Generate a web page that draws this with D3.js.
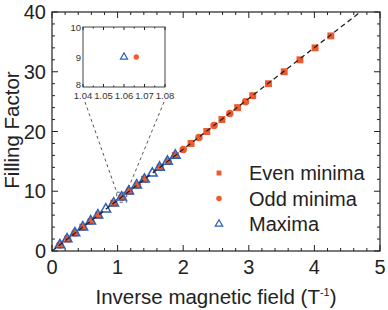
<!DOCTYPE html>
<html lang="en">
<head>
<meta charset="utf-8">
<title>Filling factor</title>
<style>
  body { margin: 0; background: #fff; font-family: "Liberation Sans", Arial, sans-serif; }
  .frame { fill: none; stroke: #222; stroke-width: 1.2px; }
  .tick { stroke: #222; stroke-width: 1px; }
  .tick-label { font-size: 20px; fill: #222; }
  .axis-title { font-size: 20.5px; fill: #222; }
  .inset-label { font-size: 9.5px; fill: #333; }
  .legend-label { font-size: 20px; fill: #222; }
  .fit { stroke: #222; stroke-width: 1.3px; stroke-dasharray: 5,3.5; fill: none; }
  .zoom-line { stroke: #555; stroke-width: 1px; stroke-dasharray: 3,3; fill: none; }
</style>
</head>
<body>
<script src="https://d3js.org/d3.v7.min.js"></script>
<script>
// even filling-factor minima
var evenX = [0.24, 0.47, 0.71, 0.94, 1.18, 1.41, 1.65, 1.88, 2.12, 2.36, 2.59, 2.83, 3.06, 3.30, 3.54, 3.78, 4.01, 4.25];
var evenY = [2, 4, 6, 8, 10, 12, 14, 16, 18, 20, 22, 24, 26, 28, 30, 32, 34, 36];
// odd minima
var oddX = [0.12, 0.35, 0.59, 1.066, 1.30, 1.77, 2.00, 2.24, 2.47, 2.71, 2.95];
var oddY = [1, 3, 5, 9, 11, 15, 17, 19, 21, 23, 25];
// maxima
var maxX = [0.12, 0.23, 0.35, 0.47, 0.59, 0.70, 0.82, 0.94, 1.06, 1.17, 1.29, 1.41, 1.53, 1.64, 1.76, 1.88];
var maxY = [1, 2, 3, 4, 5, 6, 7, 8, 9, 10, 11, 12, 13, 14, 15, 16];
// dashed linear fit
var fitX = [0, 4.7];
var fitY = [0, 40];

var xTicks = [0, 1, 2, 3, 4, 5];
var yTicks = [0, 10, 20, 30, 40];
var insetXTicks = [1.04, 1.05, 1.06, 1.07, 1.08];
var insetYTicks = [8, 9, 10];

var red = '#ee5a2f', blue = '#2e5fb5';

var W = 388, H = 310;
var svg = d3.select('body').append('svg').attr('width', W).attr('height', H);

var x = d3.scaleLinear().domain([0, 5]).range([52, 380]);
var y = d3.scaleLinear().domain([0, 40]).range([251, 12]);

// ticks on all four sides, pointing inward
function minorTicks(lo, hi, step) {
  return d3.range(lo, hi + step / 2, step);
}
var gT = svg.append('g');
minorTicks(0, 5, 0.2).forEach(function(v) {
  var major = Math.abs(v - Math.round(v)) < 1e-6;
  var len = major ? 6 : 3;
  gT.append('line').attr('class', 'tick').attr('x1', x(v)).attr('x2', x(v)).attr('y1', y(0)).attr('y2', y(0) - len);
  gT.append('line').attr('class', 'tick').attr('x1', x(v)).attr('x2', x(v)).attr('y1', y(40)).attr('y2', y(40) + len);
});
minorTicks(0, 40, 2).forEach(function(v) {
  var major = v % 10 === 0;
  var len = major ? 6 : 3;
  gT.append('line').attr('class', 'tick').attr('x1', x(0)).attr('x2', x(0) + len).attr('y1', y(v)).attr('y2', y(v));
  gT.append('line').attr('class', 'tick').attr('x1', x(5)).attr('x2', x(5) - len).attr('y1', y(v)).attr('y2', y(v));
});

svg.append('rect').attr('class', 'frame')
  .attr('x', x(0)).attr('y', y(40)).attr('width', x(5) - x(0)).attr('height', y(0) - y(40));

svg.append('g').selectAll('text').data(xTicks).enter().append('text')
  .attr('class', 'tick-label').attr('text-anchor', 'middle')
  .attr('x', function(d) { return x(d); }).attr('y', 274)
  .text(function(d) { return d; });

svg.append('g').selectAll('text').data(yTicks).enter().append('text')
  .attr('class', 'tick-label').attr('text-anchor', 'end')
  .attr('x', 46).attr('y', function(d) { return y(d) + 7; })
  .text(function(d) { return d; });

var xt = svg.append('text').attr('class', 'axis-title').attr('text-anchor', 'middle')
  .attr('x', 216).attr('y', 304);
xt.append('tspan').text('Inverse magnetic field (T');
xt.append('tspan').attr('font-size', 11).attr('dy', -8).text('-1');
xt.append('tspan').attr('dy', 8).text(')');

svg.append('text').attr('class', 'axis-title').attr('text-anchor', 'middle')
  .attr('transform', 'translate(19,130) rotate(-90)').text('Filling Factor');

// zoom indicator lines from inset to the point at 1/B ~ 1.06
var zx = x(1.063), zy = y(9);
svg.append('rect').attr('class', 'zoom-line')
  .attr('x', zx - 5).attr('y', zy - 5).attr('width', 10).attr('height', 10);
svg.append('line').attr('class', 'zoom-line').attr('x1', 85).attr('y1', 102).attr('x2', zx - 5).attr('y2', zy - 5);
svg.append('line').attr('class', 'zoom-line').attr('x1', 164).attr('y1', 102).attr('x2', zx + 5).attr('y2', zy - 5);

// markers
var sym = {
  square: d3.symbol().type(d3.symbolSquare).size(48),
  circle: d3.symbol().type(d3.symbolCircle).size(44),
  triangle: d3.symbol().type(d3.symbolTriangle).size(40)
};

svg.append('g').selectAll('path').data(d3.range(evenX.length)).enter().append('path')
  .attr('d', sym.square).attr('fill', red)
  .attr('transform', function(i) { return 'translate(' + x(evenX[i]) + ',' + y(evenY[i]) + ')'; });

svg.append('g').selectAll('path').data(d3.range(oddX.length)).enter().append('path')
  .attr('d', sym.circle).attr('fill', red)
  .attr('transform', function(i) { return 'translate(' + x(oddX[i]) + ',' + y(oddY[i]) + ')'; });

svg.append('g').selectAll('path').data(d3.range(maxX.length)).enter().append('path')
  .attr('d', sym.triangle).attr('fill', 'none').attr('stroke', blue).attr('stroke-width', 1.5)
  .attr('transform', function(i) { return 'translate(' + x(maxX[i]) + ',' + y(maxY[i]) + ')'; });

svg.append('path').attr('class', 'fit')
  .attr('d', d3.line().x(function(i) { return x(fitX[i]); }).y(function(i) { return y(fitY[i]); })(d3.range(fitX.length)));

// inset
var ix = d3.scaleLinear().domain([1.04, 1.08]).range([83, 165]);
var iy = d3.scaleLinear().domain([8, 10]).range([87, 27]);
var inset = svg.append('g');
inset.append('rect').attr('fill', '#fff').attr('stroke', '#444').attr('stroke-width', 1)
  .attr('x', ix(1.04)).attr('y', iy(10)).attr('width', ix(1.08) - ix(1.04)).attr('height', iy(8) - iy(10));
minorTicks(1.04, 1.08, 0.005).forEach(function(v) {
  var major = Math.abs(v * 100 - Math.round(v * 100)) < 1e-6;
  var len = major ? 3 : 1.5;
  inset.append('line').attr('class', 'tick').attr('x1', ix(v)).attr('x2', ix(v)).attr('y1', iy(8)).attr('y2', iy(8) - len);
  inset.append('line').attr('class', 'tick').attr('x1', ix(v)).attr('x2', ix(v)).attr('y1', iy(10)).attr('y2', iy(10) + len);
});
inset.selectAll('text.ixl').data(insetXTicks).enter().append('text')
  .attr('class', 'inset-label').attr('text-anchor', 'middle')
  .attr('x', function(d) { return ix(d); }).attr('y', 99)
  .text(function(d) { return d.toFixed(2); });
inset.selectAll('text.iyl').data(insetYTicks).enter().append('text')
  .attr('class', 'inset-label').attr('text-anchor', 'end')
  .attr('x', 81).attr('y', function(d) { return iy(d) + (d === 8 ? 1 : 3.5); })
  .text(function(d) { return d; });
var smallSym = {
  triangle: d3.symbol().type(d3.symbolTriangle).size(22),
  circle: d3.symbol().type(d3.symbolCircle).size(22)
};
inset.append('path').attr('d', smallSym.triangle).attr('fill', 'none').attr('stroke', blue).attr('stroke-width', 1.2)
  .attr('transform', 'translate(' + ix(maxX[8]) + ',' + iy(maxY[8]) + ')');
inset.append('path').attr('d', smallSym.circle).attr('fill', red)
  .attr('transform', 'translate(' + ix(oddX[3]) + ',' + iy(oddY[3]) + ')');

// legend
var legend = [
  { label: 'Even minima', s: d3.symbolSquare, fill: red, stroke: 'none' },
  { label: 'Odd minima', s: d3.symbolCircle, fill: red, stroke: 'none' },
  { label: 'Maxima', s: d3.symbolTriangle, fill: 'none', stroke: blue }
];
var lg = svg.append('g').selectAll('g').data(legend).enter().append('g')
  .attr('transform', function(d, i) { return 'translate(219,' + (173 + i * 25.5) + ')'; });
lg.append('path').attr('d', function(d) { return d3.symbol().type(d.s).size(24)(); })
  .attr('fill', function(d) { return d.fill; }).attr('stroke', function(d) { return d.stroke; }).attr('stroke-width', 1.2);
lg.append('text').attr('class', 'legend-label').attr('x', 30).attr('y', 7).text(function(d) { return d.label; });
</script>
</body>
</html>
